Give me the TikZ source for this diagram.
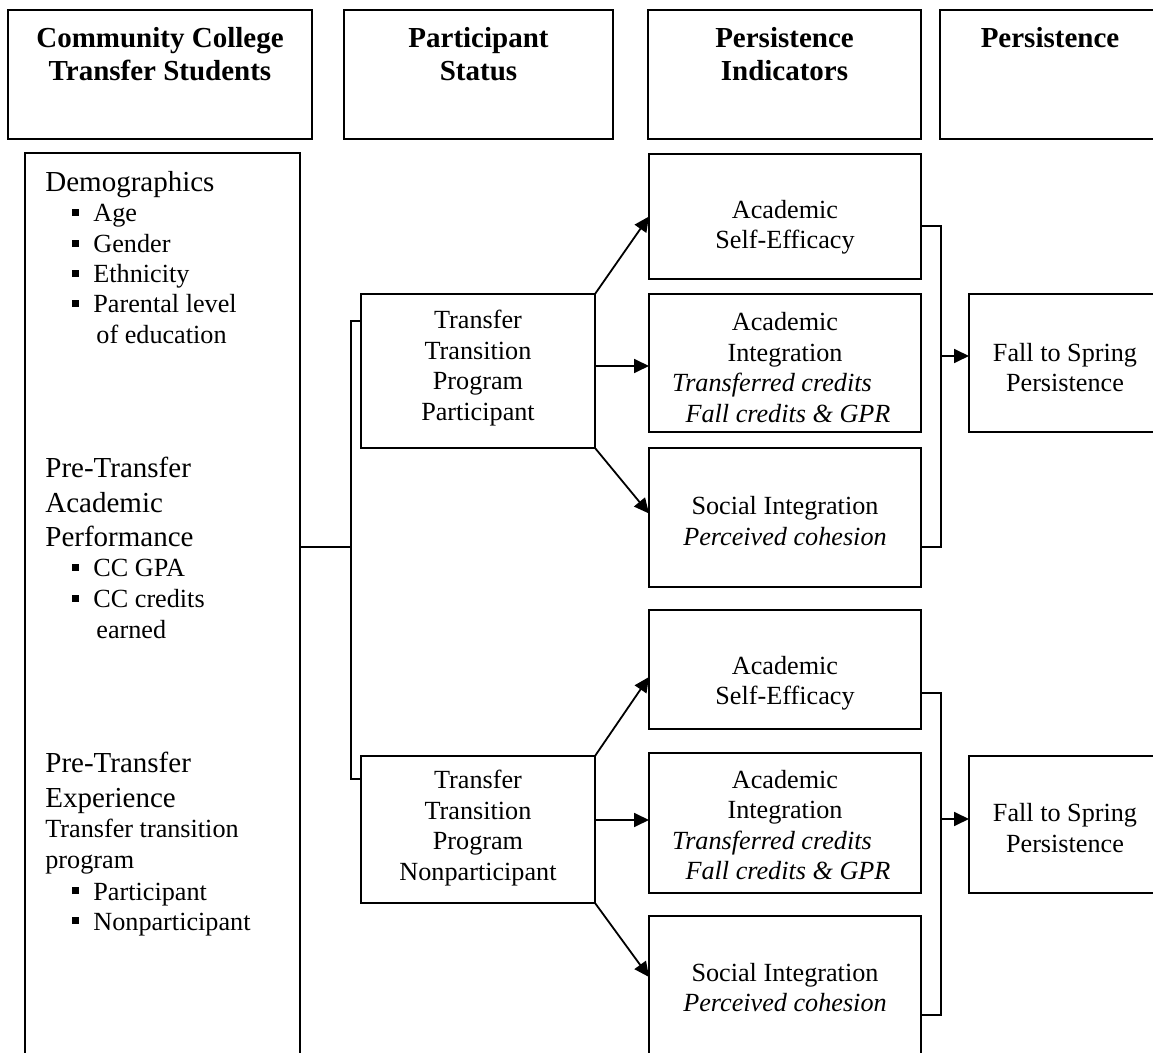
\documentclass[tikz,border=0pt]{standalone}
\usepackage{fontspec}
\setmainfont{Liberation Serif}
\usetikzlibrary{arrows.meta}
\newcommand{\bodyfont}{\fontsize{13.1pt}{15.2pt}\selectfont}
\newcommand{\headfont}{\fontsize{14.5pt}{17.4pt}\selectfont}
\newcommand{\titlefont}{\fontsize{14.5pt}{16.5pt}\selectfont\bfseries}
\newcommand{\bul}{\makebox[10.5pt][l]{\rule[3pt]{3.5pt}{3.5pt}}}
\begin{document}
\begin{tikzpicture}[x=0.5pt,y=-0.5pt,
  box/.style={draw, line width=1pt, rectangle, inner sep=0pt, outer sep=0pt},
  lbl/.style={inner sep=0pt, align=center, font=\bodyfont},
  ttl/.style={inner sep=0pt, align=center, font=\titlefont},
  lft/.style={inner sep=0pt, anchor=base west, font=\bodyfont},
  hd/.style={inner sep=0pt, anchor=base west, font=\headfont},
  conn/.style={line width=0.9pt},
  arr/.style={line width=0.9pt, -{Triangle[length=7.5pt,width=7pt]}}]

\useasboundingbox (0,0) rectangle (1153,1053);
\clip (0,0) rectangle (1153,1053);

% header boxes
\node[box, minimum width=152pt, minimum height=64.5pt] (h1) at (160,74.5) {};
\node[box, minimum width=134.5pt, minimum height=64.5pt] (h2) at (478.5,74.5) {};
\node[box, minimum width=136.5pt, minimum height=64.5pt] (h3) at (784.5,74.5) {};
\node[box, minimum width=112.5pt, minimum height=64.5pt] (h4) at (1052.5,74.5) {};
\node[ttl] (h1t) at (160,54) {Community College\\Transfer Students};
\node[ttl] (h2t) at (478.5,54) {Participant\\Status};
\node[ttl] (h3t) at (784.5,54) {Persistence\\Indicators};
\node[ttl] (h4t) at (1050,38) {Persistence};

% tall left box
\node[box, minimum width=137.5pt, minimum height=453.5pt] (demo) at (162.5,606.5) {};
\node[hd] (d0) at (45,192) {Demographics};
\node[lft] (d1) at (72,222) {\bul Age};
\node[lft] (d2) at (72,253) {\bul Gender};
\node[lft] (d3) at (72,283) {\bul Ethnicity};
\node[lft] (d4) at (72,313) {\bul Parental level};
\node[lft] (d5) at (96,344) {of education};
\node[hd] (a0) at (45,478) {Pre-Transfer};
\node[hd] (a1) at (45,513) {Academic};
\node[hd] (a2) at (45,547) {Performance};
\node[lft] (a3) at (72,577) {\bul CC GPA};
\node[lft] (a4) at (72,608) {\bul CC credits};
\node[lft] (a5) at (96,639) {earned};
\node[hd] (e0) at (45,773) {Pre-Transfer};
\node[hd] (e1) at (45,808) {Experience};
\node[lft] (e2) at (45,838) {Transfer transition};
\node[lft] (e3) at (45,869) {program};
\node[lft] (e4) at (72,900) {\bul Participant};
\node[lft] (e5) at (72,930) {\bul Nonparticipant};

% participant status boxes
\node[box, minimum width=117pt, minimum height=77pt] (p1) at (478,371) {};
\node[box, minimum width=117pt, minimum height=73.5pt] (p2) at (478,829.5) {};
\node[lbl] (p1t) at (478,368) {Transfer\\Transition\\Program\\Participant};
\node[lbl] (p2t) at (478,828) {Transfer\\Transition\\Program\\Nonparticipant};

% indicator boxes (upper)
\node[box, minimum width=136pt, minimum height=62.5pt] (as1) at (785,216.5) {};
\node[box, minimum width=136pt, minimum height=69pt] (ai1) at (785,363) {};
\node[box, minimum width=136pt, minimum height=69.5pt] (si1) at (785,517.5) {};
\node[lbl] (as1t) at (785,227) {Academic\\Self-Efficacy};
\node[lbl] (ai1t) at (785,367.5) {Academic\\Integration\\\textit{Transferred credits}\rule{13pt}{0pt}\\\rule{3pt}{0pt}\textit{Fall credits \& GPR}};
\node[lbl] (si1t) at (785,521) {Social Integration\\\textit{Perceived cohesion}};

% indicator boxes (lower)
\node[box, minimum width=136pt, minimum height=59.5pt] (as2) at (785,669.5) {};
\node[box, minimum width=136pt, minimum height=70pt] (ai2) at (785,823) {};
\node[box, minimum width=136pt, minimum height=72pt] (si2) at (785,988) {};
\node[lbl] (as2t) at (785,683) {Academic\\Self-Efficacy};
\node[lbl] (ai2t) at (785,825) {Academic\\Integration\\\textit{Transferred credits}\rule{13pt}{0pt}\\\rule{3pt}{0pt}\textit{Fall credits \& GPR}};
\node[lbl] (si2t) at (785,987.5) {Social Integration\\\textit{Perceived cohesion}};

% persistence boxes
\node[box, minimum width=98pt, minimum height=69pt] (f1) at (1067,363) {};
\node[box, minimum width=98pt, minimum height=68.5pt] (f2) at (1067,824.5) {};
\node[lbl] (f1t) at (1065,367.5) {Fall to Spring\\Persistence};
\node[lbl] (f2t) at (1065,828) {Fall to Spring\\Persistence};

% left bracket
\coordinate (k0) at (351,547);
\coordinate (k1) at (351,321);
\coordinate (k2) at (351,779);
\draw[conn] (demo.east |- k0) -- (k0);
\draw[conn] (p1.west |- k1) -- (k1) -- (k2) -- (p2.west |- k2);

% arrows from participant boxes
\draw[arr] (p1.north east) -- (as1.west);
\draw[arr] ([yshift=-1.5pt]ai1.west -| p1.east) -- ([yshift=-1.5pt]ai1.west);
\draw[arr] (p1.south east) -- ([yshift=2pt]si1.west);
\draw[arr] (p2.north east) -- ([yshift=-3.75pt]as2.west);
\draw[arr] ([yshift=1.5pt]ai2.west -| p2.east) -- ([yshift=1.5pt]ai2.west);
\draw[arr] (p2.south east) -- ([yshift=5.5pt]si2.west);

% right buses
\coordinate (b1t) at (941,226);
\coordinate (b1b) at (941,547);
\coordinate (b1m) at (941,356);
\draw[conn] (as1.east |- b1t) -- (b1t) -- (b1b) -- (si1.east |- b1b);
\draw[arr] (b1m) -- (f1.west |- b1m);
\coordinate (b2t) at (941,693);
\coordinate (b2b) at (941,1015);
\coordinate (b2m) at (941,819);
\draw[conn] (as2.east |- b2t) -- (b2t) -- (b2b) -- (si2.east |- b2b);
\draw[arr] (b2m) -- (f2.west |- b2m);
\end{tikzpicture}
\end{document}
